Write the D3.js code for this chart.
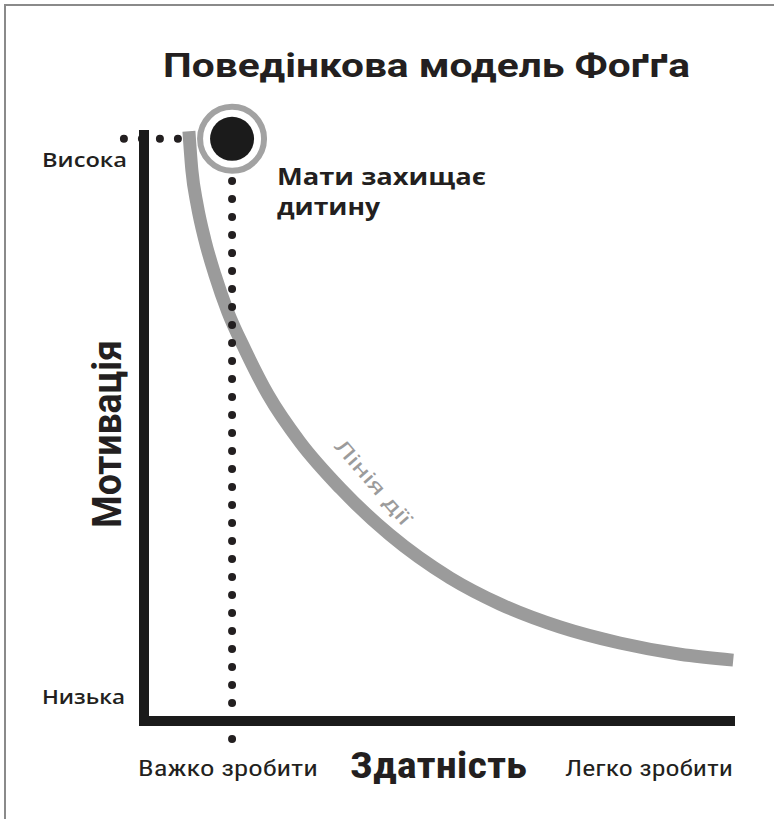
<!DOCTYPE html>
<html><head><meta charset="utf-8">
<script src="https://cdn.jsdelivr.net/npm/d3@7"></script>
<style>
html,body{margin:0;padding:0;background:#fff;}
svg{display:block;}
</style></head>
<body>
<script>
// ---- data ----
const title = "Поведінкова модель Фоґґа";
const yAxisTitle = "Мотивація";
const xAxisTitle = "Здатність";
const yTickLabels = ["Низька", "Висока"];
const yTickValues = [0.4, 9.5];
const xTickLabels = ["Важко зробити", "Легко зробити"];
const curveLabel = "Лінія дії";
const pointLabel = ["Мати захищає", "дитину"];
// action line (ability, motivation)
const ability    = [0.76, 0.81, 0.90, 1.03, 1.20, 1.42, 1.71, 2.10, 2.64, 3.32, 4.16, 5.18, 6.02, 7.04, 8.05, 9.07, 9.97];
const motivation = [9.98, 9.32, 8.73, 8.14, 7.55, 6.92, 6.28, 5.52, 4.72, 3.94, 3.15, 2.42, 1.98, 1.59, 1.32, 1.13, 1.03];
// behaviour point
const pointAbility = 1.49;
const pointMotivation = 9.85;

const W = 774, H = 819;
const svg = d3.select("body").append("svg").attr("width", W).attr("height", H);
svg.append("rect").attr("width", W).attr("height", H).attr("fill", "#fff");
// frame (top and left)
svg.append("path").attr("d", "M5,819V5H774").attr("fill", "none").attr("stroke", "#8a8a8a").attr("stroke-width", 2);

const x = d3.scaleLinear().domain([0, 10]).range([144, 735]);
const y = d3.scaleLinear().domain([0, 10]).range([721, 130]);

const ink = "#231f20";
const gray = "#9b9b9b";

function fit(sel, w) { sel.attr("textLength", w).attr("lengthAdjust", "spacingAndGlyphs"); return sel; }

// title
fit(svg.append("text").attr("x", 163).attr("y", 77)
  .attr("font-family", "Roboto, 'Open Sans', sans-serif").attr("font-weight", 700)
  .attr("font-size", 34).attr("fill", ink).text(title), 527);

// action curve
const line = d3.line().x(d => x(d[0])).y(d => y(d[1])).curve(d3.curveMonotoneX);
svg.append("path").datum(ability.map((a, i) => [a, motivation[i]]))
  .attr("d", line).attr("fill", "none").attr("stroke", gray).attr("stroke-width", 13);

// dotted guides
const dot = d3.line().x(d => x(d[0])).y(d => y(d[1]));
svg.append("path").datum([[-0.34, pointMotivation], [0.58, pointMotivation]])
  .attr("d", dot).attr("stroke", ink).attr("stroke-width", 8).attr("stroke-linecap", "round")
  .attr("stroke-dasharray", "0 18").attr("fill", "none");
svg.append("path").datum([[pointAbility, 9.44], [pointAbility, -0.33]])
  .attr("d", dot).attr("stroke", ink).attr("stroke-width", 8).attr("stroke-linecap", "round")
  .attr("stroke-dasharray", "0 18").attr("fill", "none");

// axes (thick L)
svg.append("path").datum([[0, 10], [0, 0], [10, 0]]).attr("d", dot)
  .attr("fill", "none").attr("stroke", "#1b1b1b").attr("stroke-width", 10)
  .attr("stroke-linejoin", "miter").attr("stroke-linecap", "butt");

// behaviour point
svg.append("circle").attr("cx", x(pointAbility)).attr("cy", y(pointMotivation)).attr("r", 32)
  .attr("fill", "#fff").attr("stroke", "#a2a2a2").attr("stroke-width", 6);
svg.append("circle").attr("cx", x(pointAbility)).attr("cy", y(pointMotivation)).attr("r", 22)
  .attr("fill", "#1b1b1b");

// point label
const pl = svg.append("g").attr("font-family", "'Open Sans', sans-serif").attr("font-weight", 700)
  .attr("font-size", 24).attr("fill", ink);
fit(pl.append("text").attr("x", 277).attr("y", 185).text(pointLabel[0]), 209);
fit(pl.append("text").attr("x", 277).attr("y", 215).text(pointLabel[1]), 103);

// y tick labels
const yl = svg.append("g").attr("font-family", "'Open Sans', sans-serif").attr("font-weight", 600)
  .attr("font-size", 20).attr("fill", ink);
yTickLabels.forEach((t, i) => {
  fit(yl.append("text").attr("x", 42).attr("y", y(yTickValues[i]) + 7).text(t), i === 0 ? 83 : 85);
});

// y axis title
fit(svg.append("text").attr("transform", "translate(121,528) rotate(-90)")
  .attr("font-family", "Roboto, sans-serif").attr("font-weight", 700)
  .attr("font-size", 40).attr("fill", ink).text(yAxisTitle), 188);

// x labels
const xl = svg.append("g").attr("font-family", "'Liberation Sans Narrow', 'Roboto Condensed', Roboto, sans-serif")
  .attr("font-size", 22).attr("fill", ink);
fit(xl.append("text").attr("x", 138).attr("y", 776).text(xTickLabels[0]), 180);
fit(xl.append("text").attr("x", 565).attr("y", 776).text(xTickLabels[1]), 168);
fit(svg.append("text").attr("x", 350).attr("y", 778)
  .attr("font-family", "'Liberation Sans Narrow', 'Roboto Condensed', Roboto, sans-serif").attr("font-weight", 700)
  .attr("font-size", 37).attr("fill", ink).text(xAxisTitle), 177);

// curve label
fit(svg.append("text").attr("transform", "translate(373,482) rotate(49)")
  .attr("text-anchor", "middle").attr("dy", "0.35em")
  .attr("font-family", "Roboto, sans-serif").attr("font-size", 20).attr("fill", gray)
  .text(curveLabel), 106);
</script>
</body></html>
